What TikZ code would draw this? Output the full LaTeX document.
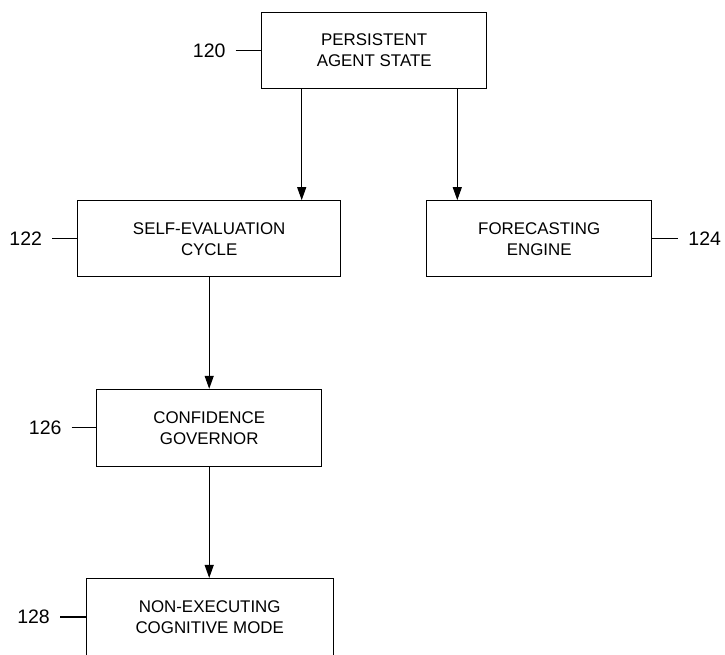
\documentclass[tikz,border=0pt]{standalone}
\usepackage{fontspec}
\setmainfont{Liberation Sans}
\usetikzlibrary{arrows.meta,calc}
\begin{document}
\begin{tikzpicture}[x=1pt,y=-1pt,
  box/.style={draw=black,line width=1.1pt,rectangle,inner sep=0pt,align=center,
    font=\fontsize{16.9}{21}\selectfont},
  lbl/.style={inner sep=0pt,font=\fontsize{19.5}{22}\selectfont},
  tick/.style={draw=black,line width=1.1pt},
  arr/.style={draw=black,line width=1.1pt,-{Triangle[length=13pt,width=9pt]}}]
\useasboundingbox (0,0) rectangle (725,654);
\clip (0,0) rectangle (725,654);
% boxes
\node[box,minimum width=225pt,minimum height=76pt] (b120) at (374.2,50.3) {PERSISTENT\\AGENT STATE};
\node[box,minimum width=263pt,minimum height=76pt] (b122) at (209.2,238.7) {SELF-EVALUATION\\CYCLE};
\node[box,minimum width=225pt,minimum height=76pt] (b124) at (539.2,238.7) {FORECASTING\\ENGINE};
\node[box,minimum width=225pt,minimum height=76.7pt] (b126) at (209.2,427.7) {CONFIDENCE\\GOVERNOR};
\node[box,minimum width=247.3pt,minimum height=77pt] (b128) at (209.7,617) {NON-EXECUTING\\COGNITIVE MODE};
% reference labels
\node[lbl,anchor=east] (l120) at ($(b120.west)+(-35.5,0)$) {120};
\node[lbl,anchor=east] (l122) at ($(b122.west)+(-35,0)$) {122};
\node[lbl,anchor=west] (l124) at ($(b124.east)+(36,0)$) {124};
\node[lbl,anchor=east] (l126) at ($(b126.west)+(-34.5,0)$) {126};
\node[lbl,anchor=east] (l128) at ($(b128.west)+(-35.5,0)$) {128};
\draw[tick,shorten <=10pt] (l120.east) -- (b120.west);
\draw[tick,shorten <=10pt] (l122.east) -- (b122.west);
\draw[tick,shorten <=10.5pt] (l124.west) -- (b124.east);
\draw[tick,shorten <=10pt] (l126.east) -- (b126.west);
\draw[tick,shorten <=10pt] (l128.east) -- (b128.west);
% arrows
\draw[arr] ([xshift=-72.5pt]b120.south) -- ([xshift=-72.5pt]b120.south |- b122.north);
\draw[arr] ([xshift=83.1pt]b120.south) -- ([xshift=83.1pt]b120.south |- b124.north);
\draw[arr] (b122.south) -- (b126.north);
\draw[arr] (b126.south) -- (b126.south |- b128.north);
\end{tikzpicture}
\end{document}
